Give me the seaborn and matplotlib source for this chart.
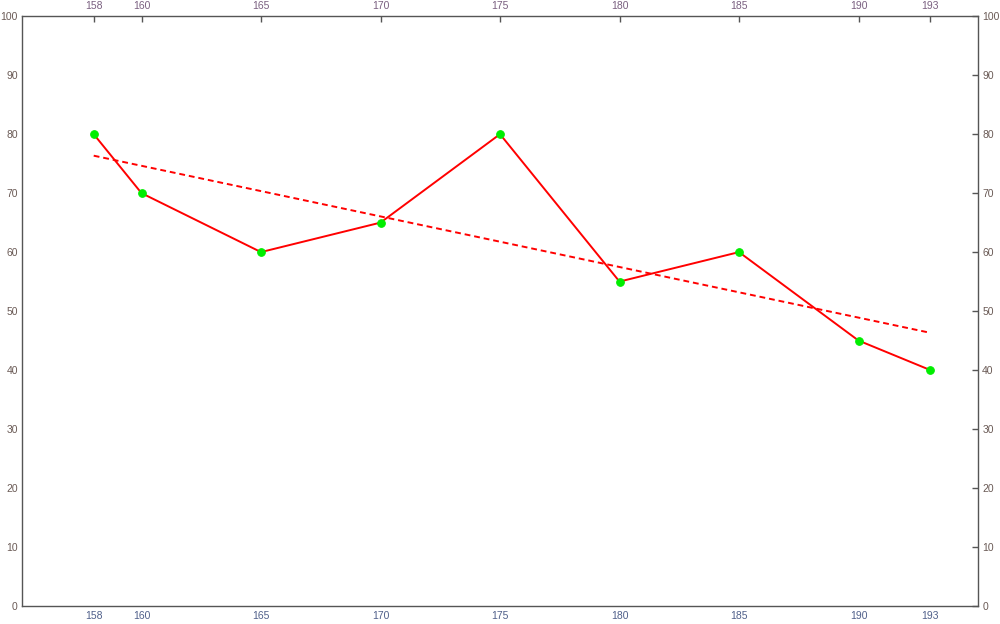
import matplotlib
matplotlib.use("Agg")
import matplotlib.pyplot as plt
import seaborn as sns
import pandas as pd

# data
heights = [158, 160, 165, 170, 175, 180, 185, 190, 193]
values = [80, 70, 60, 65, 80, 55, 60, 45, 40]
y_ticks = list(range(0, 101, 10))

df = pd.DataFrame({"x": heights, "y": values})

sns.set_style("white")
plt.rcParams["font.family"] = ["Liberation Sans", "DejaVu Sans"]

fig = plt.figure(figsize=(10, 6.24), dpi=100)
ax = fig.add_axes([0.022, 0.029, 0.956, 0.945])

# dashed linear trend
sns.regplot(data=df, x="x", y="y", scatter=False, ci=None, ax=ax,
            line_kws={"color": "#ff0000", "linestyle": (0, (3, 2)), "linewidth": 1.4})
sns.lineplot(data=df, x="x", y="y", ax=ax, color="#ff0000", linewidth=1.4,
             marker="o", markersize=5.5, markerfacecolor="#00ee00",
             markeredgecolor="#00ee00")

ax.set_xlim(155, 195)
ax.set_ylim(0, 100)
ax.set_xlabel("")
ax.set_ylabel("")

spine_col = "#555555"
for s in ax.spines.values():
    s.set_color(spine_col)
    s.set_linewidth(1.0)

ax.set_xticks(heights)
ax.set_yticks(y_ticks)
ax.tick_params(axis="both", direction="in", length=4, width=1, color=spine_col,
               labelsize=7.5, top=True, right=True, labeltop=True, labelright=True)
ax.tick_params(axis="x", pad=4, labelcolor="#50608a")
ax.tick_params(axis="y", pad=3, labelcolor="#6a5a55")
for t in ax.xaxis.get_major_ticks():
    t.label2.set_color("#7a6080")

fig.savefig("out.png", dpi=100)
